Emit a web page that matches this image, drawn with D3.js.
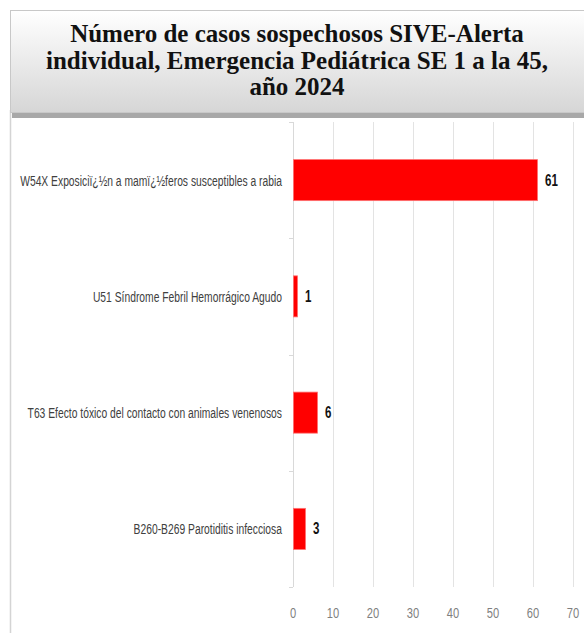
<!DOCTYPE html>
<html><head><meta charset="utf-8">
<script src="https://cdn.jsdelivr.net/npm/d3@7"></script>
<style>
html,body{margin:0;padding:0;background:#fff;}
svg{display:block;}
</style></head>
<body>
<script>
const categories = [
  "W54X Exposiciï¿½n a mamï¿½feros susceptibles a rabia",
  "U51 Síndrome Febril Hemorrágico Agudo",
  "T63 Efecto tóxico del contacto con animales venenosos",
  "B260-B269 Parotiditis infecciosa"
];
const values = [61, 1, 6, 3];
const xTicks = [0, 10, 20, 30, 40, 50, 60, 70];
const titleLines = [
  "Número de casos sospechosos SIVE-Alerta",
  "individual, Emergencia Pediátrica SE 1 a la 45,",
  "año 2024"
];

const W = 584, H = 633;
const svg = d3.select("body").append("svg").attr("width", W).attr("height", H);
const SANS = "'Liberation Sans','Arial',sans-serif";

const defs = svg.append("defs");
const grad = defs.append("linearGradient").attr("id","tg").attr("x1",0).attr("y1",0).attr("x2",0).attr("y2",1);
grad.append("stop").attr("offset","0%").attr("stop-color","#ffffff");
grad.append("stop").attr("offset","100%").attr("stop-color","#d6d6d6");

// outer left border of chart area
svg.append("line").attr("x1",10.5).attr("x2",10.5).attr("y1",110).attr("y2",H)
  .attr("stroke","#d4d4d4").attr("stroke-width",1.5);

// title box shadow + box
svg.append("rect").attr("x",12).attr("y",14).attr("width",W).attr("height",104).attr("fill","#a8a8a8");
svg.append("rect").attr("x",10.5).attr("y",10.5).attr("width",W).attr("height",102)
  .attr("fill","url(#tg)").attr("stroke","#c8c8c8");

const title = svg.append("text").attr("text-anchor","middle")
  .attr("font-family","'Liberation Serif','DejaVu Serif',serif").attr("font-weight","bold")
  .attr("font-size",25).attr("fill","#111");
const titleY = [42, 68.5, 95];
titleLines.forEach((t,i)=>{
  title.append("tspan").attr("x",297).attr("y",titleY[i]).text(t);
});

const margin = {left:293, top:122};
const x = d3.scaleLinear().domain([0,70]).range([margin.left, margin.left+280]);
const y = d3.scaleBand().domain(categories).range([margin.top, 587]).paddingInner(0.647).paddingOuter(0.3235);

// gridlines
svg.append("g").selectAll("line").data(xTicks).join("line")
  .attr("x1",d=>x(d)+0.5).attr("x2",d=>x(d)+0.5)
  .attr("y1",margin.top).attr("y2",587)
  .attr("stroke","#e3e3e3").attr("stroke-width",1);

// y axis line & ticks
const yAxisG = svg.append("g");
yAxisG.append("line").attr("x1",x(0)+0.5).attr("x2",x(0)+0.5).attr("y1",margin.top).attr("y2",587)
  .attr("stroke","#d9d9d9");
const bounds = [margin.top].concat(categories.map(c=>y(c)+y.bandwidth()+ (y.step()-y.bandwidth())/2));
yAxisG.selectAll("line.tk").data(bounds).join("line").attr("class","tk")
  .attr("x1",x(0)-4).attr("x2",x(0)).attr("y1",d=>Math.round(d)+0.5).attr("y2",d=>Math.round(d)+0.5)
  .attr("stroke","#d9d9d9");

// category labels (condensed via horizontal scale)
const catG = svg.append("g");
const catTexts = catG.selectAll("text").data(categories).join("text")
  .attr("text-anchor","end").attr("dy","0.35em")
  .attr("font-family",SANS).attr("font-size",15.5).attr("fill","#404040")
  .text(d=>d);
const w0 = catTexts.nodes()[0].getComputedTextLength();
const k = 262 / w0;
catTexts.attr("transform",d=>`translate(${x(0)-11},${y(d)+y.bandwidth()/2}) scale(${k},1)`);

// bars
svg.append("g").selectAll("rect").data(values).join("rect")
  .attr("x",x(0)+0.5).attr("y",(d,i)=>y(categories[i]))
  .attr("width",d=>x(d)-x(0)).attr("height",y.bandwidth())
  .attr("fill","#ff0000").attr("stroke","#ff7070").attr("stroke-width",0.8);

// value labels
svg.append("g").selectAll("text").data(values).join("text")
  .attr("transform",(d,i)=>`translate(${x(d)+8},${y(categories[i])+y.bandwidth()/2}) scale(0.72,1)`)
  .attr("dy","0.35em")
  .attr("font-family",SANS)
  .attr("font-weight","bold").attr("font-size",16).attr("fill","#111")
  .text(d=>d);

// x tick labels
svg.append("g").selectAll("text").data(xTicks).join("text")
  .attr("transform",d=>`translate(${x(d)},613) scale(0.72,1)`)
  .attr("dy","0.35em").attr("text-anchor","middle")
  .attr("font-family",SANS)
  .attr("font-size",15.5).attr("fill","#7f7f7f")
  .text(d=>d);
</script>
</body></html>
